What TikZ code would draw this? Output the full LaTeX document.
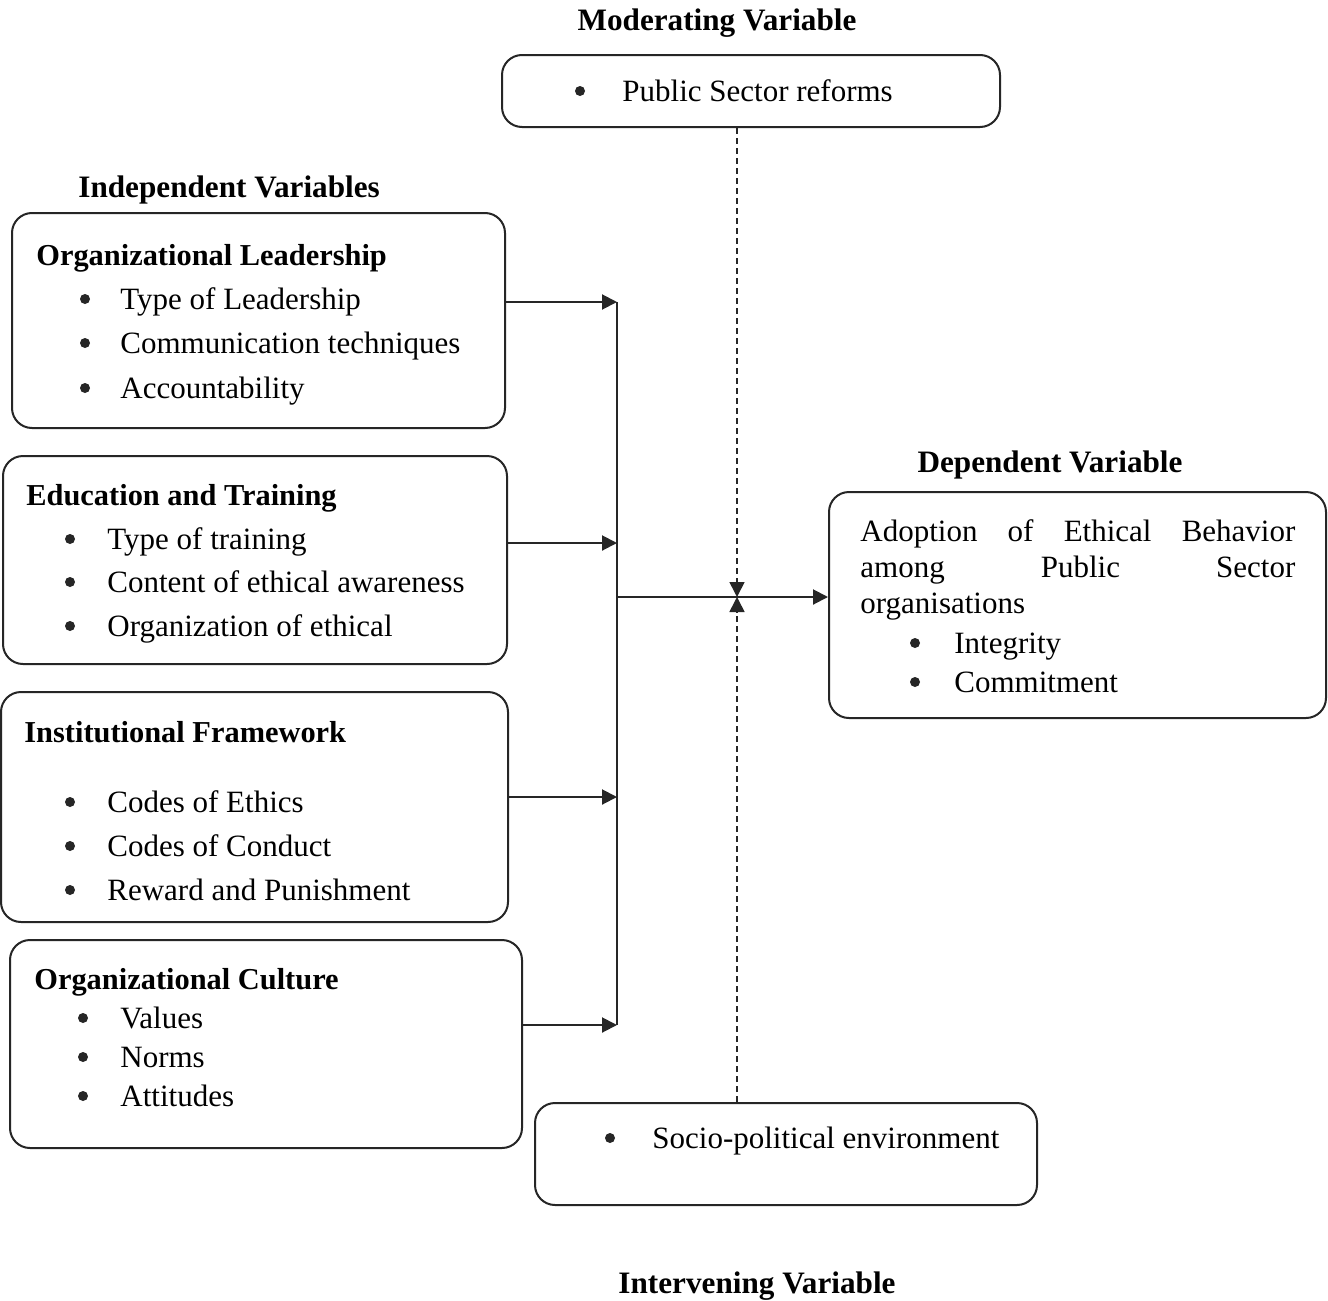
\documentclass[tikz,border=0pt]{standalone}
\usepackage{fontspec}
\setmainfont{Liberation Serif}
\usetikzlibrary{arrows.meta}
\begin{document}
\begin{tikzpicture}[x=0.5pt,y=-0.5pt,
  box/.style={draw=black!85, line width=1pt, rounded corners=10pt, inner sep=0pt},
  txt/.style={anchor=base west, inner sep=0pt, font=\fontsize{15.5}{18}\selectfont},
  ttl/.style={anchor=base west, inner sep=0pt, font=\fontsize{15.2}{18}\selectfont\bfseries},
  hdr/.style={anchor=base, inner sep=0pt, font=\fontsize{15.6}{18}\selectfont\bfseries},
  bul/.style={circle, fill=black!85, inner sep=0pt, minimum size=5pt, yshift=5pt},
  conn/.style={draw=black!85, line width=1pt},
  arr/.style={conn, -{Triangle[length=7.5pt,width=7.5pt]}},
  dsh/.style={draw=black!85, line width=0.8pt, dash pattern=on 3pt off 2pt, -{Triangle[length=7.5pt,width=7.5pt]}}
]
\useasboundingbox[fill=white] (0,0) rectangle (1328,1301);

% Headers
\node[hdr] (hmod) at (717,31) {Moderating Variable};
\node[hdr, anchor=base west] (hind) at (78,197) {Independent Variables};
\node[hdr] (hdep) at (1050,472) {Dependent Variable};
\node[hdr] (hint) at (757,1293) {Intervening Variable};

% Boxes
\node[box, minimum width=249pt, minimum height=36pt] (mod) at (751,91) {};
\node[box, minimum width=246.5pt, minimum height=107.5pt] (b1) at (258.5,320.5) {};
\node[box, minimum width=252pt, minimum height=104pt] (b2) at (255,560) {};
\node[box, minimum width=253.5pt, minimum height=115pt] (b3) at (254.5,807) {};
\node[box, minimum width=256pt, minimum height=104pt] (b4) at (266,1044) {};
\node[box, minimum width=251pt, minimum height=51pt] (soc) at (786,1154) {};
\node[box, minimum width=248.5pt, minimum height=113pt] (dep) at (1077.5,605) {};

% Moderating box text
\node[bul] (m0) at (580,101) {};
\node[txt] (m1) at (622,101) {Public Sector reforms};

% Box 1
\node[ttl] (t1) at (36,265) {Organizational Leadership};
\node[bul] (b1a) at (85,309) {};
\node[txt] (b1at) at (120,309) {Type of Leadership};
\node[bul] (b1b) at (85,353) {};
\node[txt] (b1bt) at (120,353) {Communication techniques};
\node[bul] (b1c) at (85,398) {};
\node[txt] (b1ct) at (120,398) {Accountability};

% Box 2
\node[ttl] (t2) at (26,505) {Education and Training};
\node[bul] (b2a) at (70,549) {};
\node[txt] (b2at) at (107,549) {Type of training};
\node[bul] (b2b) at (70,592) {};
\node[txt] (b2bt) at (107,592) {Content of ethical awareness};
\node[bul] (b2c) at (70,636) {};
\node[txt] (b2ct) at (107,636) {Organization of ethical};

% Box 3
\node[ttl] (t3) at (24,742) {Institutional Framework};
\node[bul] (b3a) at (70,812) {};
\node[txt] (b3at) at (107,812) {Codes of Ethics};
\node[bul] (b3b) at (70,856) {};
\node[txt] (b3bt) at (107,856) {Codes of Conduct};
\node[bul] (b3c) at (70,900) {};
\node[txt] (b3ct) at (107,900) {Reward and Punishment};

% Box 4
\node[ttl] (t4) at (34,989) {Organizational Culture};
\node[bul] (b4a) at (83,1028) {};
\node[txt] (b4at) at (120,1028) {Values};
\node[bul] (b4b) at (83,1067) {};
\node[txt] (b4bt) at (120,1067) {Norms};
\node[bul] (b4c) at (83,1106) {};
\node[txt] (b4ct) at (120,1106) {Attitudes};

% Socio-political box
\node[bul] (s0) at (610,1148) {};
\node[txt] (s1) at (652,1148) {Socio-political environment};

% Dependent box
\node[txt] (d1) at (860,541) {\makebox[217.5pt][s]{Adoption of Ethical Behavior}};
\node[txt] (d2) at (860,577) {\makebox[217.5pt][s]{among Public Sector}};
\node[txt] (d3) at (860,613) {organisations};
\node[bul] (d4) at (915,653) {};
\node[txt] (d4t) at (954,653) {Integrity};
\node[bul] (d5) at (915,692) {};
\node[txt] (d5t) at (954,692) {Commitment};

% Connectors
\coordinate (j1) at (617,302);
\coordinate (j2) at (617,543);
\coordinate (j3) at (617,797);
\coordinate (j4) at (617,1025);
\coordinate (jm) at (617,597);
\coordinate (jd) at (737,597);

\draw[arr] (b1.east |- j1) -- (j1);
\draw[arr] (b2.east |- j2) -- (j2);
\draw[arr] (b3.east |- j3) -- (j3);
\draw[arr] (b4.east |- j4) -- (j4);
\draw[conn, line cap=rect] ([yshift=-0.5pt]j1) -- ([yshift=0.5pt]j4);
\draw[arr] (jm) -- (dep.west |- jm);
\draw[dsh] (mod.south -| jd) -- (jd);
\draw[dsh] (soc.north -| jd) -- (jd);
\end{tikzpicture}
\end{document}
